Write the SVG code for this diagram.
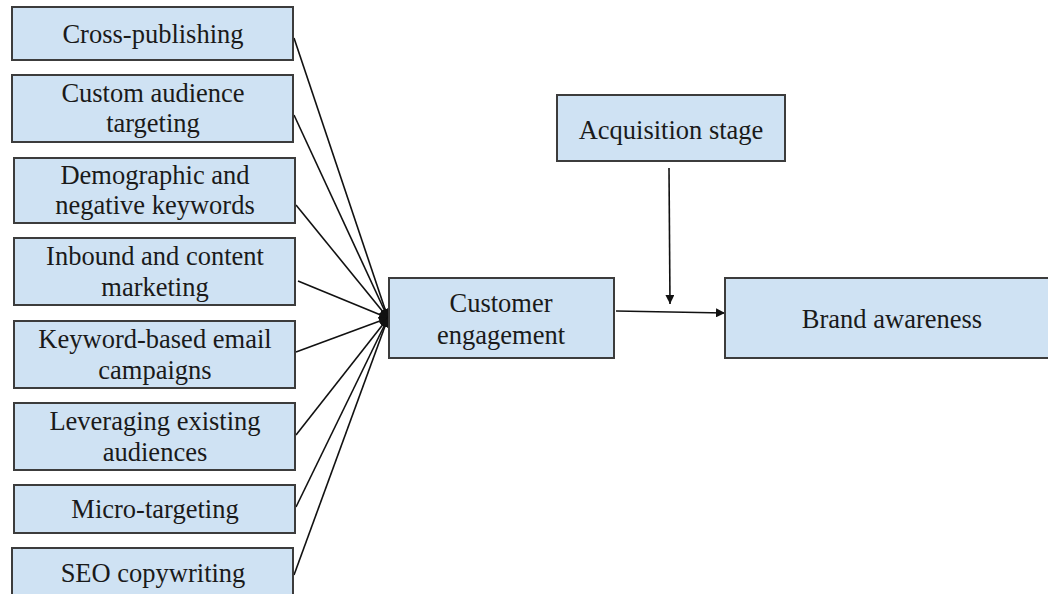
<svg xmlns="http://www.w3.org/2000/svg" width="1048" height="594" viewBox="0 0 1048 594">
  <style>
    .box { fill: #cfe2f3; stroke: #3c3c3c; stroke-width: 2; }
    .lbl { font-family: 'Liberation Serif', 'DejaVu Serif', serif; font-size: 26.5px; fill: #1a1a1a; text-anchor: middle; }
    .edge { stroke: #111; stroke-width: 1.6; fill: none; }
  </style>
  <defs>
    <marker id="arrow" viewBox="0 0 10 10" refX="10" refY="5" markerWidth="9" markerHeight="9" markerUnits="userSpaceOnUse" orient="auto">
      <path d="M0,0 L10,5 L0,10 z" fill="#111"/>
    </marker>
  </defs>
  <rect width="1048" height="594" fill="#ffffff"/>

  <!-- connectors -->
  <g id="connectors">
    <line class="edge" x1="294" y1="38" x2="388" y2="318" marker-end="url(#arrow)"/>
    <line class="edge" x1="294" y1="115" x2="388" y2="318" marker-end="url(#arrow)"/>
    <line class="edge" x1="296" y1="205" x2="388" y2="318" marker-end="url(#arrow)"/>
    <line class="edge" x1="298" y1="281" x2="388" y2="318" marker-end="url(#arrow)"/>
    <line class="edge" x1="296" y1="352" x2="388" y2="318" marker-end="url(#arrow)"/>
    <line class="edge" x1="296" y1="435" x2="388" y2="318" marker-end="url(#arrow)"/>
    <line class="edge" x1="296" y1="507" x2="388" y2="318" marker-end="url(#arrow)"/>
    <line class="edge" x1="294" y1="575" x2="388" y2="318" marker-end="url(#arrow)"/>
    <line class="edge" x1="669" y1="168" x2="670" y2="304" marker-end="url(#arrow)"/>
    <line class="edge" x1="616" y1="311" x2="725" y2="313" marker-end="url(#arrow)"/>
  </g>

  <g id="cross-publishing">
    <rect class="box" x="12" y="7" width="281" height="53"/>
    <text class="lbl" x="153" y="43">Cross-publishing</text>
  </g>
  <g id="custom-audience-targeting">
    <rect class="box" x="12" y="75" width="281" height="67"/>
    <text class="lbl" x="153" y="102">Custom audience</text>
    <text class="lbl" x="153" y="132">targeting</text>
  </g>
  <g id="demographic-negative-keywords">
    <rect class="box" x="14" y="158" width="281" height="65"/>
    <text class="lbl" x="155" y="184">Demographic and</text>
    <text class="lbl" x="155" y="214">negative keywords</text>
  </g>
  <g id="inbound-content-marketing">
    <rect class="box" x="14" y="238" width="281" height="67"/>
    <text class="lbl" x="155" y="265">Inbound and content</text>
    <text class="lbl" x="155" y="296">marketing</text>
  </g>
  <g id="keyword-email-campaigns">
    <rect class="box" x="14" y="321" width="281" height="67"/>
    <text class="lbl" x="155" y="348">Keyword-based email</text>
    <text class="lbl" x="155" y="379">campaigns</text>
  </g>
  <g id="leveraging-existing-audiences">
    <rect class="box" x="14" y="403" width="281" height="67"/>
    <text class="lbl" x="155" y="430">Leveraging existing</text>
    <text class="lbl" x="155" y="461">audiences</text>
  </g>
  <g id="micro-targeting">
    <rect class="box" x="14" y="485" width="281" height="48"/>
    <text class="lbl" x="155" y="518">Micro-targeting</text>
  </g>
  <g id="seo-copywriting">
    <rect class="box" x="12" y="548" width="281" height="60"/>
    <text class="lbl" x="153" y="582">SEO copywriting</text>
  </g>

  <g id="customer-engagement">
    <rect class="box" x="389" y="278" width="225" height="80"/>
    <text class="lbl" x="501" y="312">Customer</text>
    <text class="lbl" x="501" y="344">engagement</text>
  </g>
  <g id="acquisition-stage">
    <rect class="box" x="557" y="95" width="228" height="66"/>
    <text class="lbl" x="671" y="139">Acquisition stage</text>
  </g>
  <g id="brand-awareness">
    <rect class="box" x="725" y="278" width="330" height="80"/>
    <text class="lbl" x="892" y="328">Brand awareness</text>
  </g>
</svg>
